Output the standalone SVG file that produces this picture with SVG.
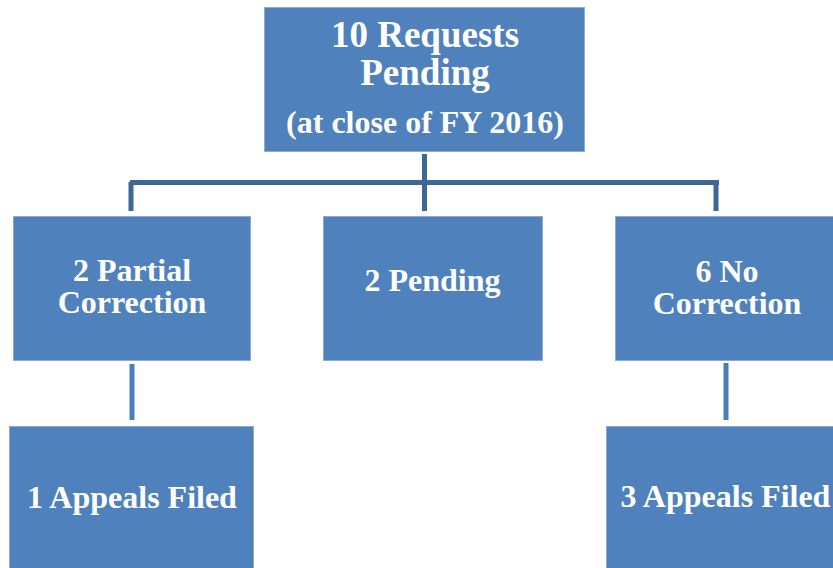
<svg xmlns="http://www.w3.org/2000/svg" width="833" height="568" viewBox="0 0 833 568">
<style>
.box{fill:#4F81BD;stroke:#8DAAD3;stroke-width:1}
.t{font-family:"Liberation Serif","Times New Roman",serif;font-weight:bold;fill:#FFFFFF;text-anchor:middle;font-size:32px}
.big{font-size:37px}
.tree{stroke:#3E6797;stroke-width:5;fill:none}
.down{stroke:#4A7DBA;stroke-width:5;fill:none}
</style>
<rect width="833" height="568" fill="#FFFFFF"/>
<g id="connectors">
<path class="tree" d="M424.5 154 V211 M130 182.5 H719 M131 182 V211 M716 182 V211"/>
<path class="down" d="M132 364 V420 M726 363 V420"/>
</g>
<g id="n-top">
<rect class="box" x="264.5" y="7.5" width="320" height="144"/>
<text class="t big" x="425" y="47">10 Requests</text>
<text class="t big" x="425" y="85">Pending</text>
<text class="t" x="425" y="133">(at close of FY 2016)</text>
</g>
<g id="n-partial">
<rect class="box" x="13.5" y="216.5" width="237" height="144"/>
<text class="t" x="132" y="281">2 Partial</text>
<text class="t" x="132" y="313">Correction</text>
</g>
<g id="n-pending">
<rect class="box" x="323.5" y="216.5" width="219" height="144"/>
<text class="t" x="432.5" y="291">2 Pending</text>
</g>
<g id="n-nocorr">
<rect class="box" x="615.5" y="216.5" width="230" height="144"/>
<text class="t" x="727" y="282">6 No</text>
<text class="t" x="727" y="314">Correction</text>
</g>
<g id="n-appeals1">
<rect class="box" x="9.5" y="426.5" width="244" height="150"/>
<text class="t" x="132" y="508">1 Appeals Filed</text>
</g>
<g id="n-appeals3">
<rect class="box" x="606.5" y="426.5" width="240" height="150"/>
<text class="t" x="725.5" y="507">3 Appeals Filed</text>
</g>
</svg>
